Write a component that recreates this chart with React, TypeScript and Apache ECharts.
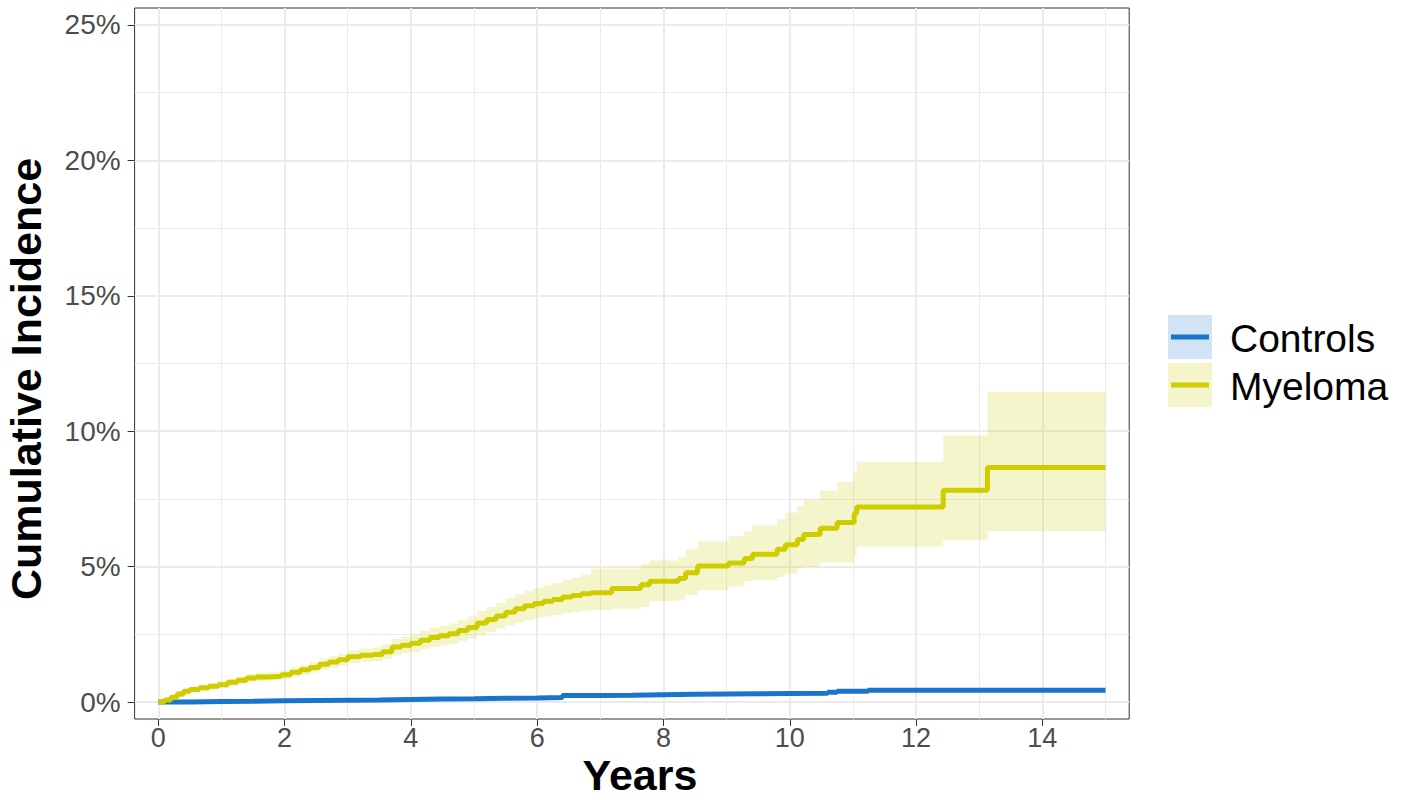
import { useEffect, useRef } from "react";
import * as echarts from "echarts";

const xTicks = [0, 2, 4, 6, 8, 10, 12, 14];
const yTicks = [0, 5, 10, 15, 20, 25];

const xTitle = "Years";
const yTitle = "Cumulative Incidence";

const groups = ["Controls", "Myeloma"];

const myelomaTime = [0, 0.1, 0.2, 0.3, 0.4, 0.5, 0.65, 0.8, 0.95, 1.1, 1.25, 1.4, 1.55, 1.75, 1.95, 2.1, 2.25, 2.4, 2.55, 2.7, 2.85, 3.0, 3.2, 3.4, 3.55, 3.7, 3.85, 4.0, 4.15, 4.3, 4.45, 4.6, 4.75, 4.9, 5.05, 5.2, 5.35, 5.5, 5.65, 5.8, 5.95, 6.1, 6.25, 6.4, 6.55, 6.7, 6.85, 7.18, 7.64, 7.78, 8.24, 8.35, 8.54, 9.03, 9.28, 9.41, 9.8, 9.93, 10.12, 10.22, 10.48, 10.75, 11.02, 11.06, 12.43, 13.13, 15.0];
const myelomaEst = [0, 0.08, 0.18, 0.3, 0.4, 0.46, 0.53, 0.58, 0.64, 0.73, 0.81, 0.89, 0.93, 0.95, 1.01, 1.1, 1.19, 1.28, 1.4, 1.48, 1.56, 1.67, 1.73, 1.76, 1.86, 2.03, 2.1, 2.17, 2.28, 2.38, 2.45, 2.52, 2.64, 2.75, 2.92, 3.05, 3.18, 3.32, 3.45, 3.56, 3.64, 3.72, 3.79, 3.88, 3.93, 4.0, 4.04, 4.19, 4.33, 4.46, 4.56, 4.77, 5.02, 5.13, 5.3, 5.46, 5.64, 5.81, 6.0, 6.19, 6.42, 6.63, 6.96, 7.2, 7.82, 8.66, 8.66];
const myelomaLower = [0, 0.03, 0.11, 0.21, 0.3, 0.36, 0.42, 0.46, 0.52, 0.6, 0.67, 0.75, 0.78, 0.8, 0.85, 0.93, 1.01, 1.09, 1.2, 1.27, 1.34, 1.44, 1.49, 1.51, 1.59, 1.74, 1.8, 1.85, 1.95, 2.03, 2.09, 2.15, 2.25, 2.34, 2.49, 2.6, 2.71, 2.83, 2.94, 3.03, 3.1, 3.16, 3.21, 3.28, 3.32, 3.37, 3.39, 3.45, 3.51, 3.72, 3.78, 3.95, 4.13, 4.27, 4.46, 4.5, 4.62, 4.74, 4.93, 4.99, 5.15, 5.15, 5.36, 5.73, 5.97, 6.31, 6.31];
const myelomaUpper = [0, 0.13, 0.25, 0.38, 0.49, 0.56, 0.64, 0.7, 0.77, 0.86, 0.95, 1.04, 1.08, 1.11, 1.18, 1.28, 1.38, 1.48, 1.61, 1.7, 1.79, 1.91, 1.98, 2.02, 2.14, 2.33, 2.41, 2.5, 2.62, 2.74, 2.82, 2.9, 3.04, 3.17, 3.36, 3.51, 3.66, 3.83, 3.98, 4.11, 4.21, 4.31, 4.4, 4.52, 4.6, 4.7, 4.93, 4.93, 5.11, 5.23, 5.36, 5.64, 5.94, 6.13, 6.31, 6.53, 6.75, 7.0, 7.24, 7.49, 7.8, 8.13, 8.5, 8.87, 9.85, 11.45, 11.45];

const controlsTime = [0, 0.1, 0.5, 1, 1.5, 2, 2.5, 3, 3.5, 4, 4.5, 5, 5.5, 6, 6.4, 7, 7.5, 8, 8.5, 9, 9.5, 10, 10.6, 10.75, 11.24, 15.0];
const controlsEst = [0, 0.005, 0.02, 0.03, 0.045, 0.06, 0.07, 0.08, 0.095, 0.11, 0.12, 0.14, 0.15, 0.17, 0.24, 0.25, 0.27, 0.29, 0.3, 0.31, 0.32, 0.33, 0.36, 0.4, 0.44, 0.44];
const controlsLower = [0, 0.0, 0.01, 0.02, 0.03, 0.045, 0.055, 0.06, 0.075, 0.09, 0.1, 0.115, 0.125, 0.145, 0.21, 0.22, 0.24, 0.26, 0.27, 0.28, 0.29, 0.3, 0.33, 0.36, 0.4, 0.4];
const controlsUpper = [0, 0.01, 0.03, 0.04, 0.06, 0.075, 0.085, 0.1, 0.115, 0.13, 0.14, 0.165, 0.175, 0.195, 0.27, 0.28, 0.3, 0.32, 0.33, 0.34, 0.35, 0.36, 0.39, 0.44, 0.48, 0.48];

const lineColors: Record<string, string> = { Controls: "#1874CD", Myeloma: "#CDCD00" };
const bandColors: Record<string, string> = { Controls: "rgba(24,116,205,0.2)", Myeloma: "rgba(205,205,0,0.2)" };

const FONT = "'Liberation Sans', Arial, Helvetica, sans-serif";

function pairs(t: number[], v: number[]) {
  return t.map((x, i) => [x, v[i]]);
}

export default function App() {
  const ref = useRef<HTMLDivElement>(null);

  useEffect(() => {
    document.body.style.margin = "0";
    if (!ref.current) return;
    const chart = echarts.init(ref.current, undefined, { renderer: "svg" });

    const data: Record<string, { t: number[]; est: number[]; lo: number[]; hi: number[] }> = {
      Controls: { t: controlsTime, est: controlsEst, lo: controlsLower, hi: controlsUpper },
      Myeloma: { t: myelomaTime, est: myelomaEst, lo: myelomaLower, hi: myelomaUpper },
    };

    const bandSeries: any[] = [];
    const lineSeries: any[] = [];
    groups.forEach((g) => {
      const d = data[g];
      bandSeries.push({
        type: "custom",
        name: g + " band",
        silent: true,
        z: 1,
        encode: { x: 0, y: 1 },
        data: [[d.t[0], d.lo[0]]],
        renderItem: (_params: any, api: any) => {
          const n = d.t.length;
          const pts: number[][] = [];
          for (let i = 0; i < n; i++) {
            const tNext = i < n - 1 ? d.t[i + 1] : d.t[i];
            pts.push(api.coord([d.t[i], d.hi[i]]));
            pts.push(api.coord([tNext, d.hi[i]]));
          }
          for (let i = n - 1; i >= 0; i--) {
            const tNext = i < n - 1 ? d.t[i + 1] : d.t[i];
            pts.push(api.coord([tNext, d.lo[i]]));
            pts.push(api.coord([d.t[i], d.lo[i]]));
          }
          return {
            type: "polygon",
            shape: { points: pts },
            style: { fill: bandColors[g], stroke: "none" },
          };
        },
      });
      lineSeries.push({
        type: "line",
        name: g,
        step: "end",
        showSymbol: false,
        lineStyle: { color: lineColors[g], width: 5 },
        itemStyle: { color: lineColors[g] },
        data: pairs(d.t, d.est),
        z: 3,
      });
    });

    const graphics: any[] = [];
    groups.forEach((g, i) => {
      const y0 = 315 + i * 48;
      graphics.push({
        type: "rect",
        shape: { x: 1168, y: y0, width: 44, height: 44 },
        style: { fill: bandColors[g] },
      });
      graphics.push({
        type: "line",
        shape: { x1: 1171, y1: y0 + 22, x2: 1209, y2: y0 + 22 },
        style: { stroke: lineColors[g], lineWidth: 5 },
      });
      graphics.push({
        type: "text",
        x: 1230,
        y: y0 + 23,
        style: {
          text: g,
          font: `39px ${FONT}`,
          fill: "#000000",
          textVerticalAlign: "middle",
          textAlign: "left",
        },
      });
    });
    graphics.push({
      type: "text",
      x: 640,
      y: 775,
      style: {
        text: xTitle,
        font: `bold 43px ${FONT}`,
        fill: "#000000",
        textAlign: "center",
        textVerticalAlign: "middle",
      },
    });
    graphics.push({
      type: "text",
      x: 26,
      y: 379,
      rotation: Math.PI / 2,
      style: {
        text: yTitle,
        font: `bold 43px ${FONT}`,
        fill: "#000000",
        textAlign: "center",
        textVerticalAlign: "middle",
      },
    });

    chart.setOption({
      animation: false,
      backgroundColor: "#ffffff",
      grid: {
        left: 134.6,
        top: 8,
        width: 994.6,
        height: 711,
        show: true,
        borderColor: "#333333",
        borderWidth: 1,
        backgroundColor: "transparent",
        containLabel: false,
        outerBoundsMode: "none",
      },
      xAxis: {
        type: "value",
        min: -0.375,
        max: 15.375,
        splitNumber: 8,
        axisLine: { show: false, onZero: false },
        axisTick: { show: true, length: 7, lineStyle: { color: "#333333", width: 1 }, customValues: xTicks },
        axisLabel: { customValues: xTicks, margin: 5, fontFamily: FONT, fontSize: 27, color: "#4D4D4D" },
        splitLine: { show: true, lineStyle: { color: "#EBEBEB", width: 2 } },
        minorTick: { show: false, splitNumber: 2 },
        minorSplitLine: { show: true, lineStyle: { color: "#EBEBEB", width: 1 } },
      },
      yAxis: {
        type: "value",
        min: -0.625,
        max: 25.625,
        splitNumber: 5,
        axisLine: { show: false, onZero: false },
        axisTick: { show: true, length: 7, lineStyle: { color: "#333333", width: 1 }, customValues: yTicks },
        axisLabel: {
          customValues: yTicks,
          margin: 14,
          fontFamily: FONT,
          fontSize: 28,
          color: "#4D4D4D",
          formatter: (v: number) => `${v}%`,
        },
        splitLine: { show: true, lineStyle: { color: "#EBEBEB", width: 2 } },
        minorTick: { show: false, splitNumber: 2 },
        minorSplitLine: { show: true, lineStyle: { color: "#EBEBEB", width: 1 } },
      },
      series: [...bandSeries, ...lineSeries],
      graphic: graphics,
    });

    return () => chart.dispose();
  }, []);

  return <div ref={ref} style={{ width: 1404, height: 800 }} />;
}
